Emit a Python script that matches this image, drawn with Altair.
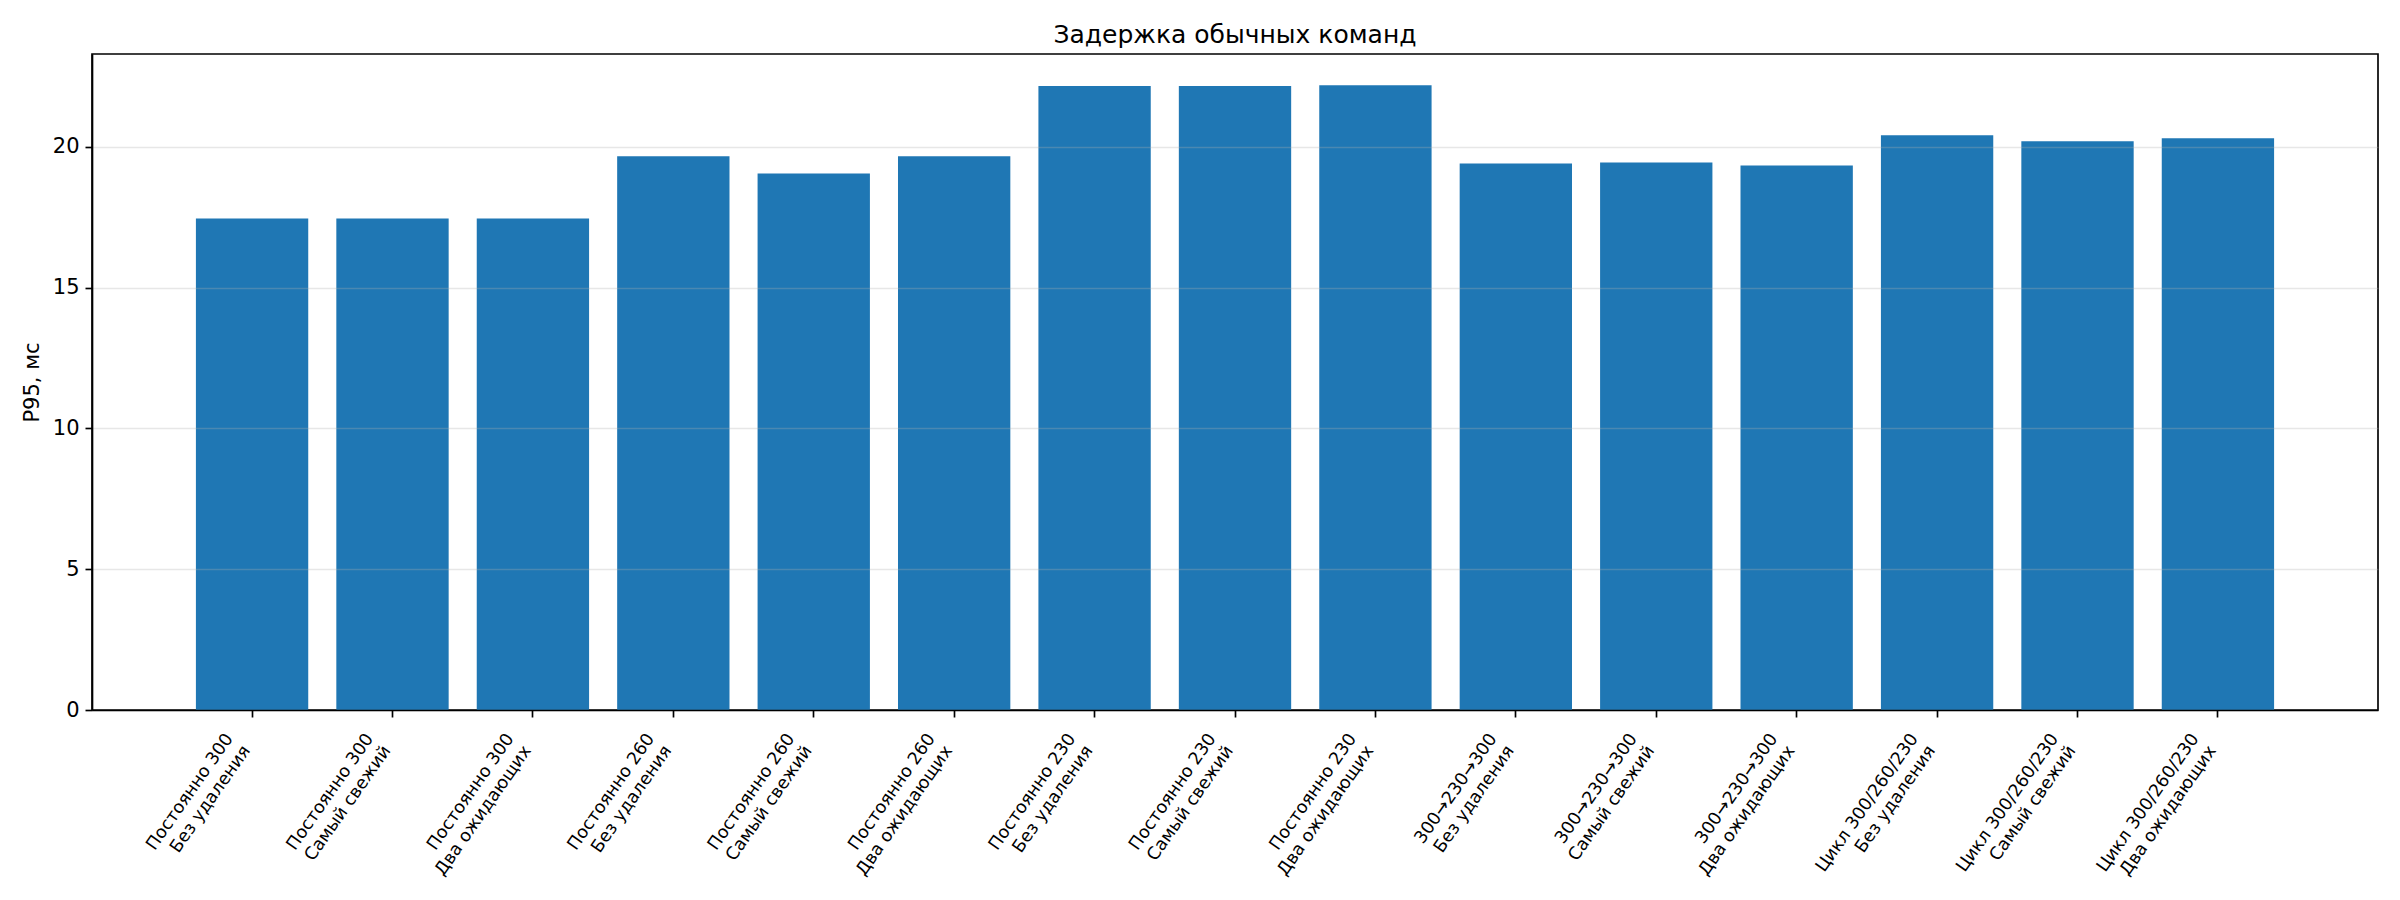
import altair as alt
import pandas as pd

schemes = [
    "Постоянно 300", "Постоянно 300", "Постоянно 300",
    "Постоянно 260", "Постоянно 260", "Постоянно 260",
    "Постоянно 230", "Постоянно 230", "Постоянно 230",
    "300→230→300", "300→230→300", "300→230→300",
    "Цикл 300/260/230", "Цикл 300/260/230", "Цикл 300/260/230",
]
modes = [
    "Без удаления", "Самый свежий", "Два ожидающих",
    "Без удаления", "Самый свежий", "Два ожидающих",
    "Без удаления", "Самый свежий", "Два ожидающих",
    "Без удаления", "Самый свежий", "Два ожидающих",
    "Без удаления", "Самый свежий", "Два ожидающих",
]
p95_ms = [17.46, 17.46, 17.46, 19.67, 19.06, 19.67, 22.16, 22.16, 22.19,
          19.41, 19.45, 19.34, 20.41, 20.20, 20.31]
y_ticks = [0, 5, 10, 15, 20]

labels = [f"{s}\n{m}" for s, m in zip(schemes, modes)]
df = pd.DataFrame({"label": labels, "p95": p95_ms})

FONT = "DejaVu Sans"
LW = 1.67

chart = alt.Chart(df).mark_bar(color="#1f77b4").encode(
    x=alt.X(
        "label:N",
        sort=None,
        scale=alt.Scale(paddingInner=0.2, paddingOuter=0.74),
        axis=alt.Axis(
            title=None,
            labelExpr="split(datum.label, '\\n')",
            labelAngle=-55,
            labelAlign="right",
            labelBaseline="top",
            labelOffset=-30,
            labelPadding=13,
            labelFontSize=17.5,
            labelLineHeight=21,
            labelFont=FONT,
            labelColor="black",
            labelOverlap=False,
            labelLimit=0,
            grid=False,
            domainColor="black",
            domainWidth=LW,
            tickColor="black",
            tickWidth=LW,
            tickSize=7,
            zindex=1,
        ),
    ),
    y=alt.Y(
        "p95:Q",
        scale=alt.Scale(domain=[0, 23.3], nice=False, zero=True),
        axis=alt.Axis(
            title="P95, мс",
            values=y_ticks,
            titleFont=FONT,
            titleFontSize=21,
            titleFontWeight="normal",
            titleColor="black",
            titlePadding=10,
            labelFont=FONT,
            labelFontSize=21,
            labelColor="black",
            labelPadding=6,
            grid=True,
            gridColor="#b0b0b0",
            gridOpacity=0.3,
            gridWidth=LW,
            domainColor="black",
            domainWidth=LW,
            tickColor="black",
            tickWidth=LW,
            tickSize=7,
            zindex=1,
        ),
    ),
).properties(
    width=2286,
    height=656,
    autosize="none",
    background="white",
    padding={"left": 84, "top": 46, "right": 6, "bottom": 182},
    title=alt.TitleParams(
        "Задержка обычных команд",
        font=FONT,
        fontSize=25,
        fontWeight="normal",
        color="black",
        anchor="middle",
        offset=6,
    ),
).configure_view(
    stroke="black",
    strokeWidth=LW,
)

chart.save("out.html", embed_options={"renderer": "svg", "actions": False})
